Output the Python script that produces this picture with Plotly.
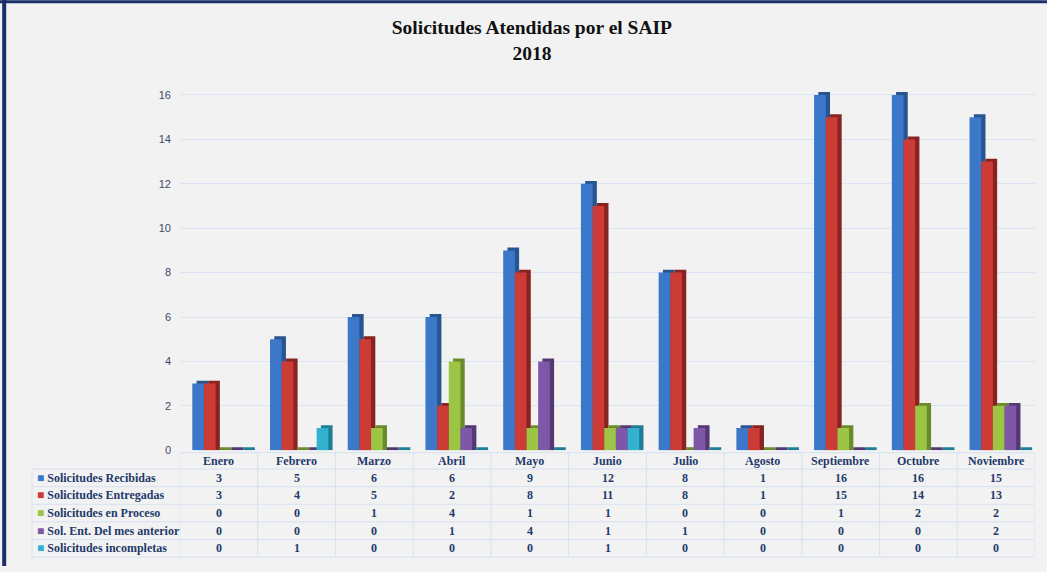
import plotly.graph_objects as go

meses = ["Enero", "Febrero", "Marzo", "Abril", "Mayo", "Junio", "Julio",
         "Agosto", "Septiembre", "Octubre", "Noviembre"]
recibidas = [3, 5, 6, 6, 9, 12, 8, 1, 16, 16, 15]
entregadas = [3, 4, 5, 2, 8, 11, 8, 1, 15, 14, 13]
en_proceso = [0, 0, 1, 4, 1, 1, 0, 0, 1, 2, 2]
mes_anterior = [0, 0, 0, 1, 4, 1, 1, 0, 0, 0, 2]
incompletas = [0, 1, 0, 0, 0, 1, 0, 0, 0, 0, 0]

series = [
    ("Solicitudes Recibidas", recibidas, "#3b78c9", "#28548f"),
    ("Solicitudes Entregadas", entregadas, "#cd3b36", "#882420"),
    ("Solicitudes en Proceso", en_proceso, "#9cc445", "#6a8a2b"),
    ("Sol. Ent. Del mes anterior", mes_anterior, "#7e57a9", "#533872"),
    ("Solicitudes incompletas", incompletas, "#33b2cf", "#1f7e95"),
]

W, H = 1047, 572
ANCHO = 0.15      # cara frontal
PROF_X = 0.055    # profundidad lateral
PROF_Y = 0.13     # profundidad vertical
INICIO = -0.342

TXT = "#1f3a6b"
FUENTE = "Liberation Serif"
REJILLA = "#d6e1f1"

fig = go.Figure()

# barras con un falso efecto 3D: cara lateral oscura y cara frontal
for i, (nombre, vals, color, sombra) in enumerate(series):
    off = INICIO + i * ANCHO
    fig.add_trace(go.Bar(
        x=meses, y=[v + PROF_Y for v in vals], base=0,
        width=ANCHO, offset=off + PROF_X,
        marker=dict(color=sombra, line=dict(width=0)),
        hoverinfo="skip", showlegend=False,
    ))
    fig.add_trace(go.Bar(
        x=meses, y=vals, base=0,
        width=ANCHO, offset=off,
        marker=dict(color=color, line=dict(width=0)),
        name=nombre, showlegend=False,
    ))


def py(p):
    # píxel desde arriba -> fracción del papel
    return (H - p) / H


# tabla de datos: encabezado + 5 filas
TOP, H_ENC, H_FILA = 457.5, 16.5, 17.8
X_IZQ, X_ETQ, X_DER = 32 / W, 180 / W, 1034 / W
bordes = [TOP, TOP + H_ENC] + [TOP + H_ENC + H_FILA * (k + 1) for k in range(len(series))]
centros = [(bordes[k] + bordes[k + 1]) / 2 for k in range(len(bordes) - 1)]

fuente_tabla = dict(family=FUENTE, size=12, color=TXT)
anots = []
for m in meses:
    anots.append(dict(x=m, xref="x", y=py(centros[0]), yref="paper", yanchor="middle",
                      text=f"<b>{m}</b>", showarrow=False, font=fuente_tabla))
for k, (nombre, vals, color, _) in enumerate(series):
    yc = py(centros[k + 1])
    anots.append(dict(x=X_IZQ + 3 / W, xref="paper", xanchor="left", y=yc, yref="paper",
                      yanchor="middle",
                      text=f"<span style='color:{color}'>■</span> <b>{nombre}</b>",
                      showarrow=False, font=fuente_tabla))
    for m, v in zip(meses, vals):
        anots.append(dict(x=m, xref="x", y=yc, yref="paper", yanchor="middle",
                          text=f"<b>{v}</b>", showarrow=False, font=fuente_tabla))

linea = dict(color=REJILLA, width=1)
formas = [
    # borde del marco
    dict(type="line", xref="paper", yref="paper", x0=0.004, x1=0.004, y0=0, y1=1,
         line=dict(color="#1b2f6b", width=4)),
    dict(type="line", xref="paper", yref="paper", x0=0, x1=1, y0=0.997, y1=0.997,
         line=dict(color="#1b2f6b", width=3)),
]
# líneas horizontales de la tabla
formas.append(dict(type="line", xref="paper", yref="paper", x0=X_ETQ, x1=X_DER,
                   y0=py(bordes[0]), y1=py(bordes[0]), line=linea))
for b in bordes[1:]:
    formas.append(dict(type="line", xref="paper", yref="paper", x0=X_IZQ, x1=X_DER,
                       y0=py(b), y1=py(b), line=linea))
# líneas verticales
formas.append(dict(type="line", xref="paper", yref="paper", x0=X_IZQ, x1=X_IZQ,
                   y0=py(bordes[1]), y1=py(bordes[-1]), line=linea))
for j in range(len(meses) + 1):
    formas.append(dict(type="line", xref="x", yref="paper", x0=j - 0.5, x1=j - 0.5,
                       y0=py(bordes[0]), y1=py(bordes[-1]), line=linea))

fig.update_layout(
    width=W, height=H,
    barmode="overlay",
    paper_bgcolor="#f2f2f2", plot_bgcolor="#f2f2f2",
    margin=dict(l=0, r=0, t=0, b=0),
    title=dict(
        text="<b>Solicitudes Atendidas por el SAIP<br>2018</b>",
        x=0.508, xanchor="center", y=0.94, yanchor="top",
        font=dict(family=FUENTE, size=19.5, color="#111111"),
    ),
    xaxis=dict(
        domain=[180 / W, 1035 / W],
        showticklabels=False, showgrid=False, zeroline=False,
        range=[-0.5, len(meses) - 0.5],
    ),
    yaxis=dict(
        domain=[py(455), py(87)],
        range=[0, 16.4], dtick=2,
        gridcolor="#dae4f2", zeroline=False,
        tickfont=dict(family="Liberation Sans", size=11, color="#3c4a66"),
        ticklabelstandoff=8,
    ),
    annotations=anots,
    shapes=formas,
)

fig.write_html("out.html", config={"displayModeBar": False},
               post_script="document.body.style.margin='0';")
